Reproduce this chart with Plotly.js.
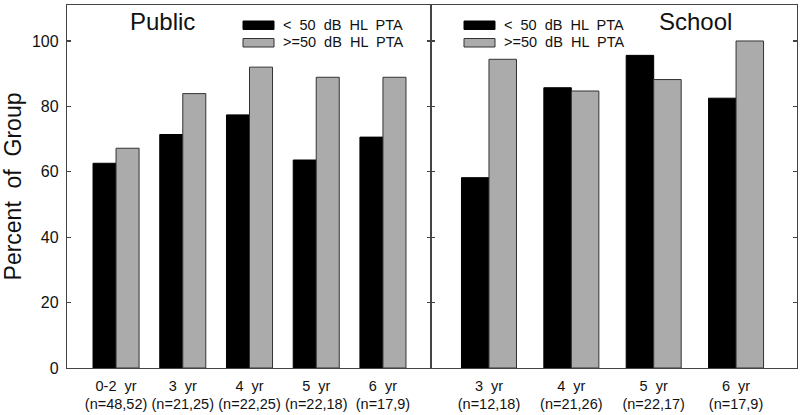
<!DOCTYPE html>
<html>
<head>
<meta charset="utf-8">
<script src="https://cdn.plot.ly/plotly-3.0.1.min.js"></script>
<style>html,body{margin:0;padding:0;background:#fff;}#chart{width:800px;height:415px;}</style>
</head>
<body>
<div id="chart"></div>
<script>
// ---- data ----
const pubCats = ["0-2 yr", "3 yr", "4 yr", "5 yr", "6 yr"];
const pubN = ["(n=48,52)", "(n=21,25)", "(n=22,25)", "(n=22,18)", "(n=17,9)"];
const pubLow = [62.6, 71.4, 77.4, 63.6, 70.6];
const pubHigh = [67.2, 83.9, 92.0, 88.9, 88.9];

const schCats = ["3 yr", "4 yr", "5 yr", "6 yr"];
const schN = ["(n=12,18)", "(n=21,26)", "(n=22,17)", "(n=17,9)"];
const schLow = [58.2, 85.7, 95.6, 82.5];
const schHigh = [94.4, 84.7, 88.2, 100.0];

const seriesNames = ["<  50  dB  HL  PTA", ">=50  dB  HL  PTA"];
const panelTitles = ["Public", "School"];
const yTicks = [0, 20, 40, 60, 80, 100];
const yTitle = "Percent  of  Group";

// ---- layout helpers ----
const W = 800, H = 415;
const L = 67, R = 3, T = 5, B = 47;
const pw = W - L - R, ph = H - T - B;
const px = x => (x - L) / pw;
const py = y => (H - B - y) / ph;
const split = px(431);

const lineCol = '#444';
const black = '#000000', gray = '#ababab';
const font = 'Liberation Sans, Arial, Helvetica, sans-serif';

const pubX = pubCats.map((c, i) => c + '|' + pubN[i]);
const schX = schCats.map((c, i) => c + '|' + schN[i]);
const tickTxt = (cats, ns) => cats.map((c, i) => c.replace(' ', '  ') + '<br>' + ns[i]);

const wL = 0.345, wR = 0.334;
const traces = [
  {type: 'bar', x: pubX, y: pubLow, xaxis: 'x', yaxis: 'y', width: wL, offset: -wL,
   marker: {color: black, line: {color: black, width: 1}}, showlegend: false, hoverinfo: 'y'},
  {type: 'bar', x: pubX, y: pubHigh, xaxis: 'x', yaxis: 'y', width: wL, offset: 0,
   marker: {color: gray, line: {color: '#333', width: 1}}, showlegend: false, hoverinfo: 'y'},
  {type: 'bar', x: schX, y: schLow, xaxis: 'x2', yaxis: 'y2', width: wR, offset: -wR,
   marker: {color: black, line: {color: black, width: 1}}, showlegend: false, hoverinfo: 'y'},
  {type: 'bar', x: schX, y: schHigh, xaxis: 'x2', yaxis: 'y2', width: wR, offset: 0,
   marker: {color: gray, line: {color: '#333', width: 1}}, showlegend: false, hoverinfo: 'y'}
];

const yr = [0, 111];
const baseY = {range: yr, showgrid: false, zeroline: false, tickvals: yTicks,
  showline: true, linecolor: lineCol, linewidth: 1.2, tickcolor: lineCol, tickwidth: 1.2,
  ticklen: 4, fixedrange: true, ticks: 'inside', mirror: 'ticks'};

const layout = {
  width: W, height: H,
  margin: {l: L, r: R, t: T, b: B, pad: 0},
  paper_bgcolor: '#fff', plot_bgcolor: '#fff',
  barmode: 'overlay',
  font: {family: font, color: '#111', size: 14},
  xaxis: {domain: [0, split], anchor: 'y', type: 'category', categoryarray: pubX,
    range: [-0.735, 4.72], tickvals: pubX, ticktext: tickTxt(pubCats, pubN),
    showline: true, mirror: true, linecolor: lineCol, linewidth: 1.2, ticks: '',
    ticklabelstandoff: 4,
    showgrid: false, zeroline: false, tickfont: {size: 14.5}, fixedrange: true},
  xaxis2: {domain: [split, 1], anchor: 'y2', type: 'category', categoryarray: schX,
    range: [-0.704, 3.74], tickvals: schX, ticktext: tickTxt(schCats, schN),
    showline: true, mirror: true, linecolor: lineCol, linewidth: 1.2, ticks: '',
    ticklabelstandoff: 4,
    showgrid: false, zeroline: false, tickfont: {size: 14.5}, fixedrange: true},
  yaxis: Object.assign({}, baseY, {anchor: 'x', showticklabels: true, tickfont: {size: 16},
    ticklabelstandoff: 4,
    title: {text: yTitle, font: {size: 23, color: '#111'}, standoff: 9}}),
  yaxis2: Object.assign({}, baseY, {anchor: 'x2', showticklabels: false}),
  shapes: [
    {type: 'rect', xref: 'paper', yref: 'paper', x0: px(243), x1: px(274), y0: py(29.5), y1: py(21),
     fillcolor: black, line: {color: black, width: 1}},
    {type: 'rect', xref: 'paper', yref: 'paper', x0: px(243), x1: px(274), y0: py(47), y1: py(38.5),
     fillcolor: gray, line: {color: '#333', width: 1}},
    {type: 'rect', xref: 'paper', yref: 'paper', x0: px(464), x1: px(495), y0: py(29.5), y1: py(21),
     fillcolor: black, line: {color: black, width: 1}},
    {type: 'rect', xref: 'paper', yref: 'paper', x0: px(464), x1: px(495), y0: py(47), y1: py(38.5),
     fillcolor: gray, line: {color: '#333', width: 1}}
  ],
  annotations: [
    {xref: 'paper', yref: 'paper', x: px(162.5), y: py(21), text: panelTitles[0], showarrow: false,
     xanchor: 'center', yanchor: 'middle', font: {size: 24, color: '#111'}},
    {xref: 'paper', yref: 'paper', x: px(695), y: py(21), text: panelTitles[1], showarrow: false,
     xanchor: 'center', yanchor: 'middle', font: {size: 24, color: '#111'}},
    {xref: 'paper', yref: 'paper', x: px(281), y: py(25), text: seriesNames[0], showarrow: false,
     xanchor: 'left', yanchor: 'middle', font: {size: 14.5, color: '#111'}},
    {xref: 'paper', yref: 'paper', x: px(281), y: py(42.5), text: seriesNames[1], showarrow: false,
     xanchor: 'left', yanchor: 'middle', font: {size: 14.5, color: '#111'}},
    {xref: 'paper', yref: 'paper', x: px(502), y: py(25), text: seriesNames[0], showarrow: false,
     xanchor: 'left', yanchor: 'middle', font: {size: 14.5, color: '#111'}},
    {xref: 'paper', yref: 'paper', x: px(502), y: py(42.5), text: seriesNames[1], showarrow: false,
     xanchor: 'left', yanchor: 'middle', font: {size: 14.5, color: '#111'}}
  ]
};

Plotly.newPlot('chart', traces, layout, {staticPlot: true, displayModeBar: false});
</script>
</body>
</html>
